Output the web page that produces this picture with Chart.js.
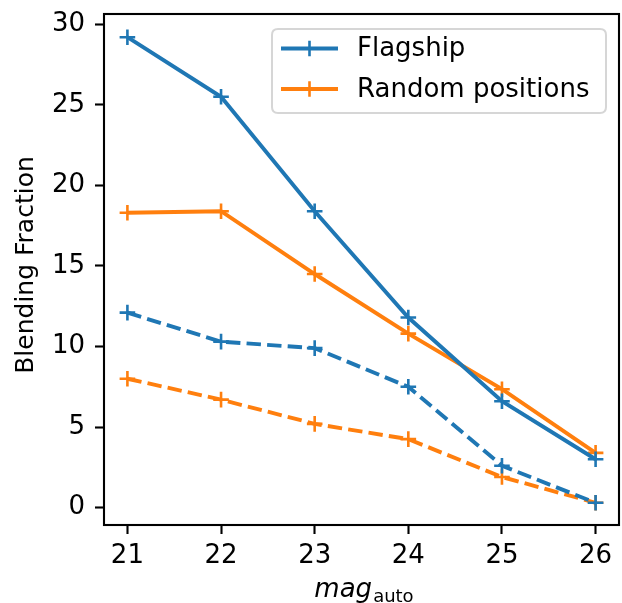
<!DOCTYPE html>
<html><head><meta charset="utf-8">
<script src="https://cdn.jsdelivr.net/npm/chart.js@4/dist/chart.umd.min.js"></script>
<style>html,body{margin:0;padding:0;background:#fff}#wrap{width:622px;height:603px}</style>
</head><body><div id="wrap"><canvas id="c" width="622" height="603"></canvas></div>
<script>
const mags = [21, 22, 23, 24, 25, 26];
const flagshipSolid = [29.2, 25.5, 18.4, 11.8, 6.6, 3.0];
const randomSolid = [18.3, 18.4, 14.5, 10.8, 7.35, 3.4];
const flagshipDashed = [12.1, 10.3, 9.9, 7.5, 2.6, 0.3];
const randomDashed = [8.0, 6.7, 5.2, 4.25, 1.9, 0.3];
const xTicks = [21, 22, 23, 24, 25, 26];
const yTicks = [0, 5, 10, 15, 20, 25, 30];
const BLUE = '#1f77b4', ORANGE = '#ff7f0e';
const FONT = '"DejaVu Sans", sans-serif';
const FS = 26;
const AREA_RIGHT = 619;

function pts(ys){ return mags.map((x,i)=>({x:x,y:ys[i]})); }
function ds(label, ys, color, dashed){
  return {label:label, data:pts(ys), borderColor:color, backgroundColor:color,
    borderWidth:3.9, borderDash: dashed?[14.4,6.2]:[], pointStyle:'cross',
    pointRadius:7.8, pointBorderWidth:2.6, pointHoverRadius:7.8, tension:0, fill:false,
    showInLegend: !dashed};
}
function noPad(s){ s.paddingTop=0; s.paddingBottom=0; s.paddingLeft=0; s.paddingRight=0; }

const fixAreaPlugin = {
  id:'fixArea',
  afterLayout(chart){
    const a = chart.chartArea, xs = chart.scales.x;
    a.right = AREA_RIGHT; a.width = a.right - a.left;
    xs.right = AREA_RIGHT; xs.width = xs.right - xs.left;
    xs.configure();
  }
};

const framePlugin = {
  id:'frame',
  afterDraw(chart){
    const ctx = chart.ctx, a = chart.chartArea;
    ctx.save();
    ctx.strokeStyle = '#000'; ctx.lineWidth = 2.1;
    ctx.strokeRect(a.left, a.top, a.right-a.left, a.bottom-a.top);
    // legend
    const lx=272, ly=29, lw=334, lh=84, r=6;
    ctx.fillStyle='rgba(255,255,255,0.8)'; ctx.strokeStyle='#d6d6d6'; ctx.lineWidth=2;
    ctx.beginPath();
    ctx.moveTo(lx+r,ly); ctx.lineTo(lx+lw-r,ly); ctx.quadraticCurveTo(lx+lw,ly,lx+lw,ly+r);
    ctx.lineTo(lx+lw,ly+lh-r); ctx.quadraticCurveTo(lx+lw,ly+lh,lx+lw-r,ly+lh);
    ctx.lineTo(lx+r,ly+lh); ctx.quadraticCurveTo(lx,ly+lh,lx,ly+lh-r);
    ctx.lineTo(lx,ly+r); ctx.quadraticCurveTo(lx,ly,lx+r,ly); ctx.closePath();
    ctx.fill(); ctx.stroke();
    const items = chart.data.datasets.filter(d=>d.showInLegend);
    items.forEach((d,i)=>{
      const y = 48.5 + i*40.5;
      ctx.strokeStyle = d.borderColor; ctx.lineWidth = 3.9; ctx.setLineDash([]);
      ctx.beginPath(); ctx.moveTo(281,y); ctx.lineTo(338,y); ctx.stroke();
      ctx.lineWidth = 2.6;
      ctx.beginPath(); ctx.moveTo(309.5,y-7.8); ctx.lineTo(309.5,y+7.8); ctx.moveTo(301.7,y); ctx.lineTo(317.3,y); ctx.stroke();
      ctx.fillStyle='#000'; ctx.font=FS+'px '+FONT; ctx.textBaseline='middle'; ctx.textAlign='left';
      ctx.fillText(d.label, 357, y+1);
    });
    // x title
    ctx.fillStyle='#000'; ctx.textBaseline='alphabetic';
    ctx.font='italic '+FS+'px '+FONT;
    const t1='mag', w1=ctx.measureText(t1).width;
    ctx.font='18px '+FONT;
    const t2='auto', w2=ctx.measureText(t2).width;
    const cx=(a.left+a.right)/2 + 2, start=cx-(w1+w2)/2;
    ctx.font='italic '+FS+'px '+FONT; ctx.fillText(t1,start,597);
    ctx.font='18px '+FONT; ctx.fillText(t2,start+w1+1,602);
    // y title
    ctx.translate(33,265); ctx.rotate(-Math.PI/2);
    ctx.font='25px '+FONT; ctx.textAlign='center'; ctx.fillText('Blending Fraction',0,0);
    ctx.restore();
  }
};

new Chart(document.getElementById('c'), {
  type:'line',
  data:{datasets:[
    ds('Flagship', flagshipSolid, BLUE, false),
    ds('Random positions', randomSolid, ORANGE, false),
    ds('Flagship (dashed)', flagshipDashed, BLUE, true),
    ds('Random positions (dashed)', randomDashed, ORANGE, true)
  ]},
  options:{
    responsive:false, animation:false, devicePixelRatio:1,
    layout:{padding:{left:0,top:14,right:3,bottom:0}},
    plugins:{legend:{display:false}, tooltip:{enabled:false}},
    scales:{
      x:{type:'linear', min:20.75, max:26.25,
        afterBuildTicks(s){ s.ticks = xTicks.map(v=>({value:v})); },
        afterFit(s){ s.height = 78; noPad(s); },
        grid:{drawOnChartArea:false, tickLength:9, tickWidth:2.1, tickColor:'#000'},
        border:{display:false},
        ticks:{color:'#000', font:{family:FONT, size:FS}, padding:7, maxRotation:0}
      },
      y:{type:'linear', min:-1.08, max:30.64,
        afterBuildTicks(s){ s.ticks = yTicks.map(v=>({value:v})); },
        afterFit(s){ s.width = 104; noPad(s); },
        grid:{drawOnChartArea:false, tickLength:9, tickWidth:2.1, tickColor:'#000'},
        border:{display:false},
        ticks:{color:'#000', font:{family:FONT, size:FS}, padding:10}
      }
    }
  },
  plugins:[fixAreaPlugin, framePlugin]
});
</script></body></html>
